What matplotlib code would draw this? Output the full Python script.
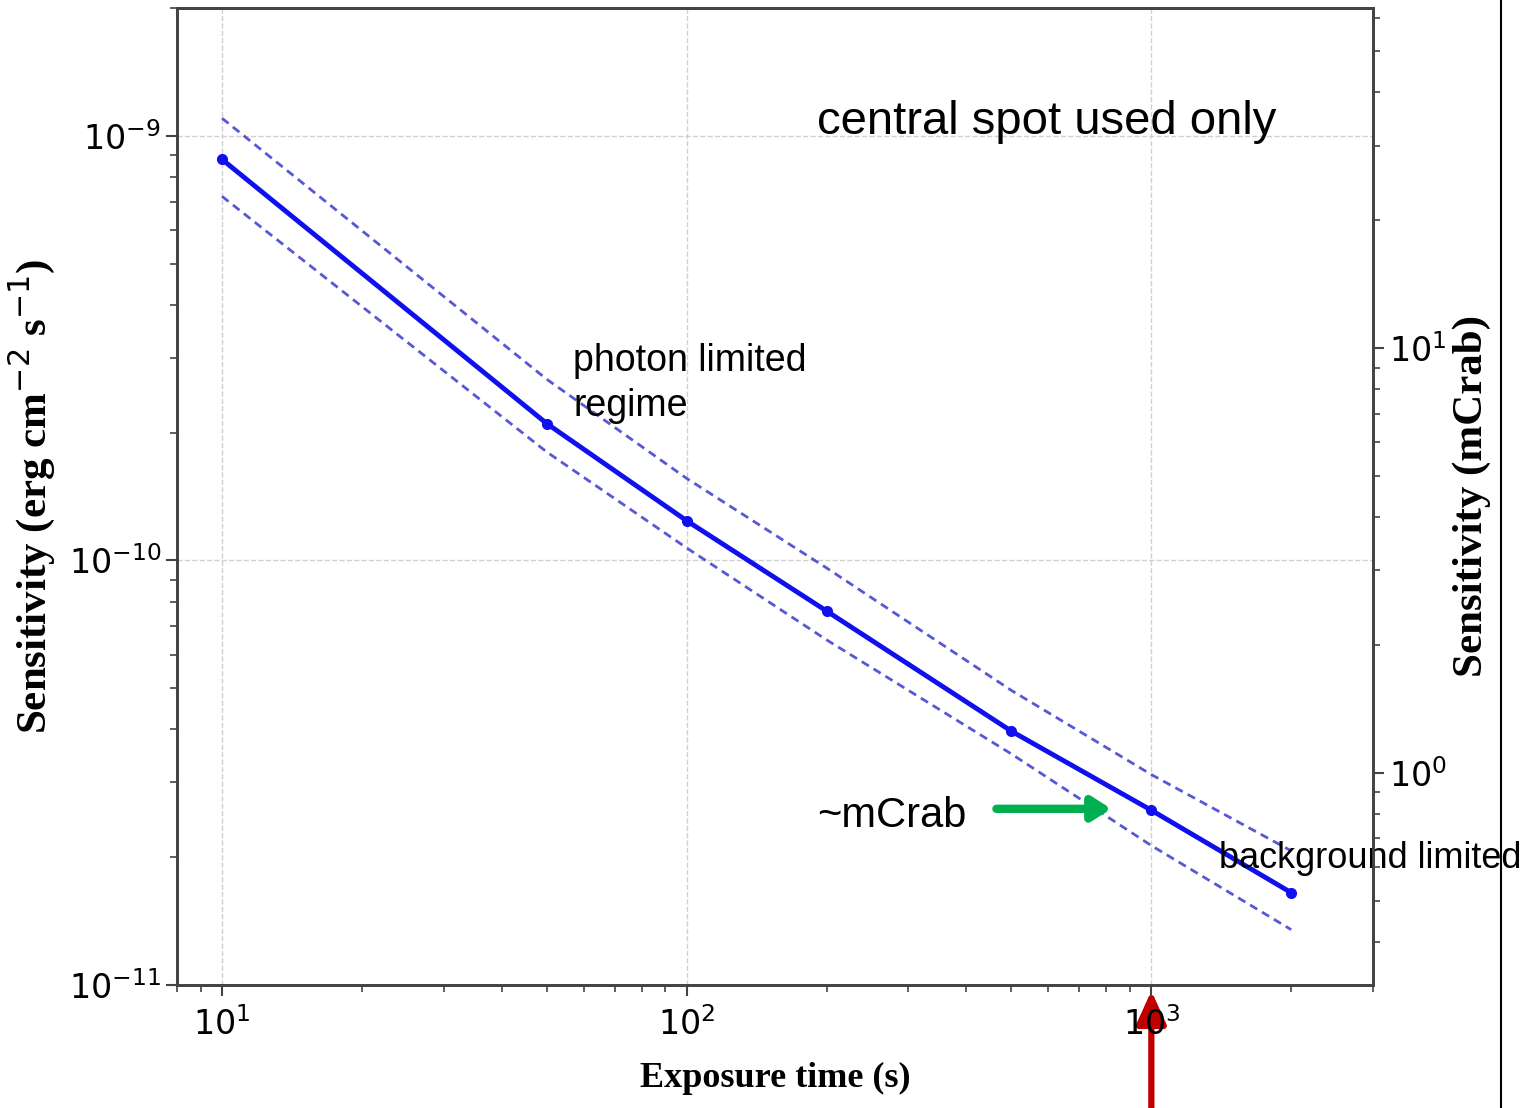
import matplotlib
matplotlib.use('Agg')
import matplotlib.pyplot as plt
from matplotlib.lines import Line2D
from matplotlib.patches import FancyArrowPatch
from matplotlib.transforms import blended_transform_factory

# exposure time (s) and sensitivity (erg cm^-2 s^-1)
exposure = [10, 50, 100, 200, 500, 1000, 2000]
sens = [8.8e-10, 2.10e-10, 1.24e-10, 7.6e-11, 3.96e-11, 2.58e-11, 1.65e-11]
sens_upper = [1.10e-9, 2.67e-10, 1.56e-10, 9.6e-11, 4.94e-11, 3.13e-11, 2.07e-11]
sens_lower = [7.2e-10, 1.80e-10, 1.07e-10, 6.5e-11, 3.50e-11, 2.13e-11, 1.35e-11]

# 1 mCrab in erg cm^-2 s^-1 (from the right-hand axis)
mcrab = 10 ** -10.5

xlim = (8.0, 3000)
ylim = (1e-11, 2.0e-9)

serif = ['Liberation Serif', 'DejaVu Serif']
sans = ['Liberation Sans', 'DejaVu Sans']

fig = plt.figure(figsize=(15.35, 11.08), dpi=100)
ax = fig.add_axes([0.1153, 0.111, 0.7792, 0.8818])

ax.plot(exposure, sens, '-o', color='#1010ee', lw=3.5, ms=7)
ax.plot(exposure, sens_upper, color='#4646d0', lw=2, ls=(0, (3, 2)), alpha=0.9)
ax.plot(exposure, sens_lower, color='#4646d0', lw=2, ls=(0, (3, 2)), alpha=0.9)

ax.set_xscale('log')
ax.set_yscale('log')
ax.set_xlim(xlim)
ax.set_ylim(ylim)
ax.grid(True, which='major', color='#d0d0d0', ls='--', lw=1)

ax.set_xlabel('Exposure time (s)', family=serif, weight='bold', fontsize=26, labelpad=14)
ax.set_ylabel('Sensitivity (erg cm$^{-2}$ s$^{-1}$)', family=serif, weight='bold',
              fontsize=31, labelpad=8)
ax.tick_params(which='major', labelsize=24, length=8, width=1.5, color='#444444')
ax.tick_params(which='minor', length=5, width=1.2, color='#444444')
ax.tick_params(axis='x', pad=8)
for s in ax.spines.values():
    s.set_linewidth(2)
    s.set_color('#444444')

ax2 = ax.twinx()
ax2.set_yscale('log')
ax2.set_ylim(ylim[0] / mcrab, ylim[1] / mcrab)
ax2.set_ylabel('Sensitivity (mCrab)', family=serif, weight='bold', fontsize=31, labelpad=4)
ax2.tick_params(which='major', labelsize=24, length=8, width=1.5, color='#444444')
ax2.tick_params(which='minor', length=5, width=1.2, color='#444444')
for s in ax2.spines.values():
    s.set_linewidth(2)
    s.set_color('#444444')

# annotations
ax.text(191, 1.08e-9, 'central spot used only', family=sans, fontsize=34, va='center')
ax.text(57, 2.61e-10, 'photon limited\nregime', family=sans, fontsize=27, va='center',
        linespacing=1.35)
ax.text(191, 2.50e-11, '~mCrab', family=sans, fontsize=30, va='center')
ax.text(1400, 1.99e-11, 'background limited', family=sans, fontsize=26, va='center')
ax.annotate('', xy=(820, 2.60e-11), xytext=(464, 2.60e-11),
            arrowprops=dict(arrowstyle='-|>,head_length=1.1,head_width=0.7',
                            color='#00b050', lw=6, shrinkA=0, shrinkB=0))

# red arrow pointing at 1000 s from below the axis
trans = blended_transform_factory(ax.transData, ax.transAxes)
red = FancyArrowPatch((1000, -0.14), (1000, -0.006), transform=trans,
                      arrowstyle='-|>,head_length=1.1,head_width=0.5',
                      mutation_scale=18, color='#c00000', lw=4.5,
                      shrinkA=0, shrinkB=0, clip_on=False)
ax.add_patch(red)

# frame line on the right of the screenshot
fig.add_artist(Line2D([1501 / 1535] * 2, [0, 1], transform=fig.transFigure,
                      color='black', lw=1.5))

fig.savefig('out.png', dpi=100)
